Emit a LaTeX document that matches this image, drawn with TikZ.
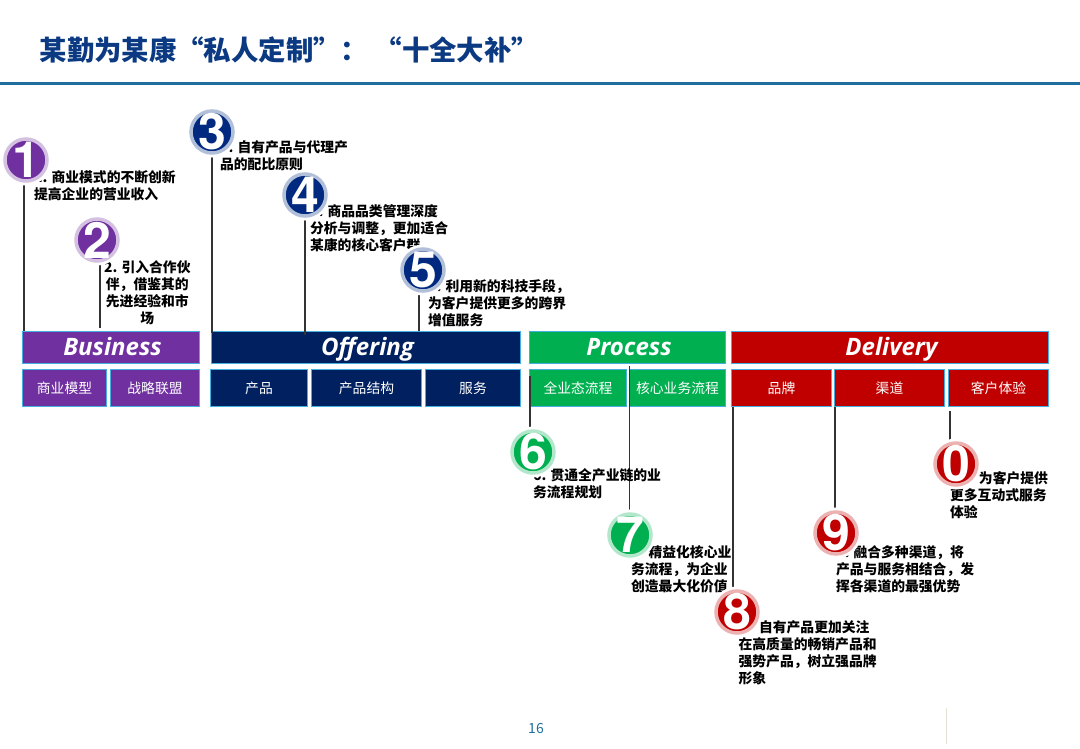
\documentclass[tikz,border=0pt]{standalone}
\usepackage{fontspec}
\setmainfont{Noto Sans CJK SC}
\newfontfamily\headfont{Open Sans}
\newfontfamily\digitfont{TeX Gyre Heros}
\usetikzlibrary{positioning}
\definecolor{cpurple}{HTML}{7030A0}
\definecolor{cnavy}{HTML}{002060}
\definecolor{cdeep}{HTML}{00297F}
\definecolor{cgreen}{HTML}{00B050}
\definecolor{cred}{HTML}{C00000}
\definecolor{cedge}{HTML}{45B0E0}
\definecolor{ctitle}{HTML}{0B3A82}
\definecolor{crule}{HTML}{1F6E9E}
\definecolor{cline}{HTML}{333333}
\definecolor{cmark}{HTML}{E4E0D4}
\tikzset{
  every picture/.style={line width=1.2pt},
  head/.style={draw=cedge, fill=#1, line width=1.6pt, inner sep=0pt, minimum height=32pt, text height=17pt, text depth=2pt, text=white, execute at begin node=\hspace{3pt}, font=\headfont\fontsize{24}{26}\selectfont\bfseries\itshape},
  sub/.style={draw=cedge, fill=#1, line width=1.6pt, inner sep=0pt, minimum height=37pt, text=white, font=\fontsize{13.8}{17}\selectfont},
  badge/.style={circle, preaction={draw=white, line width=9pt}, draw=#1!30, fill=#1, line width=3.5pt, minimum size=42pt, inner sep=0pt},
  digit/.style={text=white, inner sep=0pt, font=\digitfont\fontsize{50}{50}\selectfont\bfseries},
  link/.style={draw=cline, line width=1.2pt},
  note/.style={anchor=north west, inner sep=0pt, align=left, text=black, font=\fontsize{13.8}{17}\selectfont\bfseries},
}
\begin{document}
\begin{tikzpicture}[x=1pt, y=-1pt]
  \useasboundingbox (0,0) rectangle (1080,748);
  \node[anchor=west, inner sep=0pt, text=ctitle, font=\fontsize{27.4}{30}\selectfont\bfseries] (title) at (39,50) {某勤为某康“私人定制”： “十全大补”};
  \coordinate (ruleleft) at (0,83);
  \coordinate (ruleright) at (1080,83);
  \draw[crule, line width=3pt] (ruleleft) -- (ruleright);
  % four heads
  \node[head=cpurple, minimum width=177pt] (business) at (111,347.5) {Business};
  \node[head=cnavy, minimum width=309pt] (offering) at (366,347.5) {Offering};
  \node[head=cgreen, minimum width=196pt] (process) at (627.5,347.5) {Process};
  \node[head=cred, minimum width=317pt] (delivery) at (890,347.5) {Delivery};
  % sub boxes
  \node[sub=cpurple, minimum width=84pt] (model) at (64.5,388) {商业模型};
  \node[sub=cpurple, minimum width=89pt] (alliance) at (155,388) {战略联盟};
  \node[sub=cnavy, minimum width=97pt] (product) at (259,388) {产品};
  \node[sub=cnavy, minimum width=110pt] (structure) at (366.5,388) {产品结构};
  \node[sub=cnavy, minimum width=95pt] (service) at (473,388) {服务};
  \node[sub=cgreen, minimum width=97pt] (allflow) at (578,388) {全业态流程};
  \node[sub=cgreen, minimum width=96pt] (coreflow) at (677.5,388) {核心业务流程};
  \node[sub=cred, minimum width=100pt] (brand) at (781.5,388) {品牌};
  \node[sub=cred, minimum width=110pt] (channel) at (889.5,388) {渠道};
  \node[sub=cred, minimum width=100pt] (experience) at (998.5,388) {客户体验};
  % badges come last, so only place them here
  \coordinate (b1) at (26,160);
  \coordinate (b2) at (97,240);
  \coordinate (b3) at (212,132);
  \coordinate (b4) at (305,195);
  \coordinate (b5) at (423,270);
  \coordinate (b6) at (533,452);
  \coordinate (b7) at (630,535);
  \coordinate (b8) at (737,612);
  \coordinate (b9) at (836,533);
  \coordinate (b0) at (956,464);
  % free ends of the connectors
  \coordinate (e1) at (24,331);
  \coordinate (e2) at (100,328);
  \coordinate (e3) at (212,333);
  \coordinate (e4) at (305,335);
  \coordinate (e5) at (419,331);
  \coordinate (e6) at (530,376);
  \coordinate (e7) at (629.5,366);
  \coordinate (e8) at (733,407);
  \coordinate (e9) at (835,407);
  \coordinate (e0) at (950,411);
  \draw[link] (e1) -- (b1 -| e1);
  \draw[link] (e2) -- (b2 -| e2);
  \draw[link] (e3) -- (b3 -| e3);
  \draw[link] (e4) -- (b4 -| e4);
  \draw[link] (e5) -- (b5 -| e5);
  \draw[link] (e6) -- (b6 -| e6);
  \draw[link] (e7) -- (b7 -| e7);
  \draw[link] (e8) -- (b8 -| e8);
  \draw[link] (e9) -- (b9 -| e9);
  \draw[link] (e0) -- (b0 -| e0);
  % notes
  \node[note] (n1) at (33.5,170) {1. 商业模式的不断创新\\提高企业的营业收入};
  \node[note, align=center] (n2) at (103.5,260) {2. 引入合作伙\\伴，借鉴其的\\先进经验和市\\场};
  \node[note] (n3) at (219.5,140) {3. 自有产品与代理产\\品的配比原则};
  \node[note] (n4) at (309.5,204) {4. 商品品类管理深度\\分析与调整，更加适合\\某康的核心客户群};
  \node[note] (n5) at (427.5,279) {5. 利用新的科技手段，\\为客户提供更多的跨界\\增值服务};
  \node[note] (n6) at (532.5,468) {6. 贯通全产业链的业\\务流程规划};
  \node[note] (n7) at (630.5,545) {7. 精益化核心业\\务流程，为企业\\创造最大化价值};
  \node[note] (n8) at (738,620) {8.\hspace{3pt} 自有产品更加关注\\在高质量的畅销产品和\\强势产品，树立强品牌\\形象};
  \node[note] (n9) at (835.5,545) {9. 融合多种渠道，将\\产品与服务相结合，发\\挥各渠道的最强优势};
  \node[note] (n0) at (949.5,471) {10.\hspace{3pt} 为客户提供\\更多互动式服务\\体验};
  % badges on top of the notes
  \node[badge=cpurple, label={[digit]center:1}] (c1) at (b1) {};
  \node[badge=cpurple, label={[digit]center:2}] (c2) at (b2) {};
  \node[badge=cdeep, label={[digit]center:3}] (c3) at (b3) {};
  \node[badge=cdeep, label={[digit]center:4}] (c4) at (b4) {};
  \node[badge=cdeep, label={[digit]center:5}] (c5) at (b5) {};
  \node[badge=cgreen, label={[digit]center:6}] (c6) at (b6) {};
  \node[badge=cgreen, label={[digit]center:7}] (c7) at (b7) {};
  \node[badge=cred, label={[digit]center:8}] (c8) at (b8) {};
  \node[badge=cred, label={[digit]center:9}] (c9) at (b9) {};
  \node[badge=cred, label={[digit]center:0}] (c0) at (b0) {};
  % footer
  \node[text=crule, font=\fontsize{14}{16}\selectfont] (page) at (536,728) {16};
  \coordinate (markup) at (946.5,708);
  \coordinate (markdown) at (946.5,744);
  \draw[cmark, line width=1pt] (markup) -- (markdown);
\end{tikzpicture}
\end{document}
